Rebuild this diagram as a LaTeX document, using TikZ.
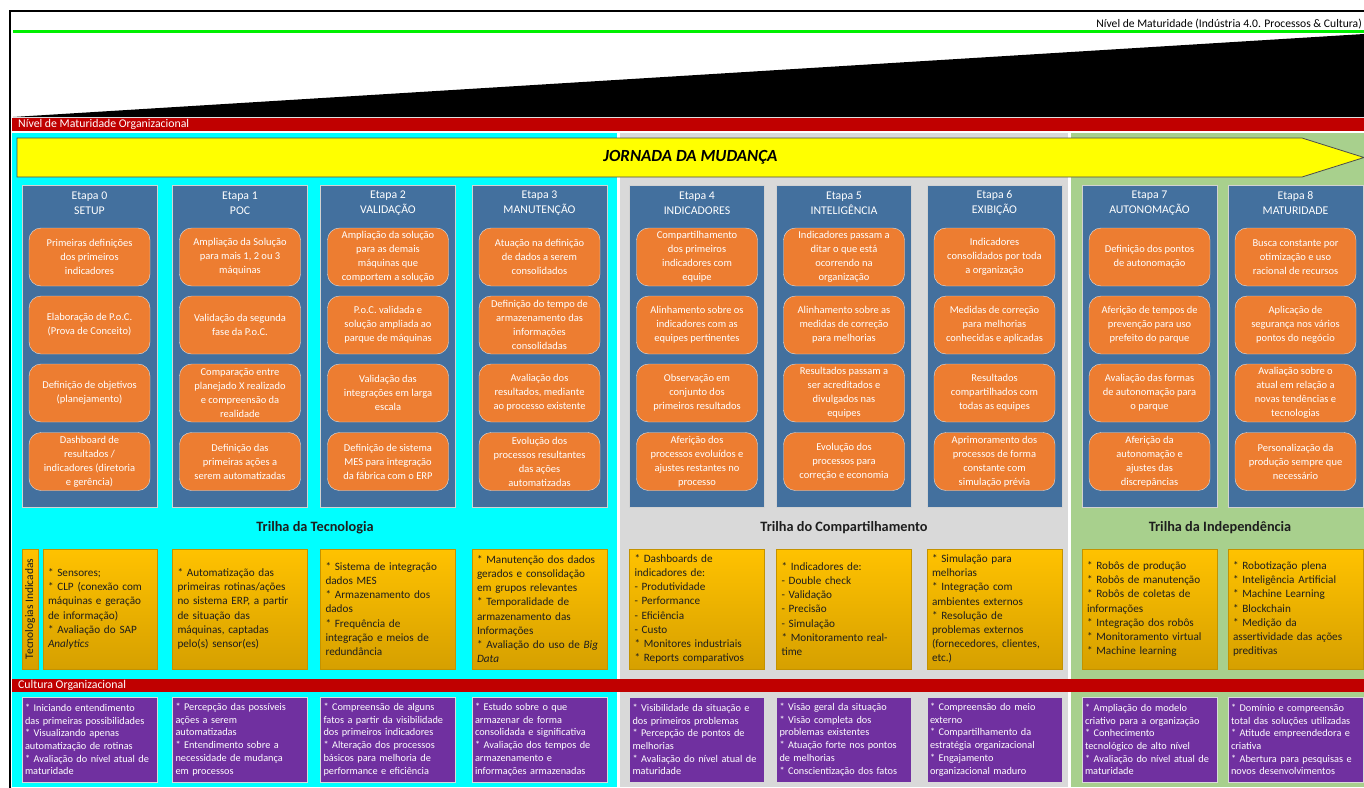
\documentclass[tikz,border=0pt]{standalone}
\usepackage{fontspec}
\setmainfont{Carlito}
\usepackage{tikz}
\definecolor{ciano}{RGB}{0,255,255}
\definecolor{cinza}{RGB}{217,217,217}
\definecolor{verdeclaro}{RGB}{168,208,141}
\definecolor{verdelinha}{RGB}{0,240,0}
\definecolor{vermelho}{RGB}{192,0,0}
\definecolor{amarelo}{RGB}{255,255,0}
\definecolor{azul}{RGB}{67,112,158}
\definecolor{laranja}{RGB}{237,125,49}
\definecolor{ouroA}{RGB}{255,194,0}
\definecolor{ouroB}{RGB}{214,160,0}
\definecolor{ouroC}{RGB}{196,146,0}
\definecolor{roxo}{RGB}{112,48,160}
\definecolor{texto}{RGB}{30,30,30}
\tikzset{
  etapa/.style={
    draw=white!65!gray, fill=azul,
    minimum width=135pt, minimum height=322pt, inner sep=0pt
  },
  titulo/.style={
    text=white, align=center, inner sep=0pt,
    font=\fontsize{11.8}{15}\selectfont
  },
  passo/.style={
    draw=white!75!gray, fill=laranja, rounded corners=12pt,
    minimum width=121pt, minimum height=58pt, inner sep=1pt,
    align=center, text=white, font=\fontsize{10.5}{14}\selectfont
  },
  tec/.style={
    top color=ouroA, bottom color=ouroB, draw=ouroC,
    minimum height=120pt, inner sep=5pt, align=left, text=texto,
    font=\fontsize{11.2}{14.2}\selectfont
  },
  cultura/.style={
    fill=roxo, draw=white!70!gray, text=white,
    minimum height=85pt, inner sep=3pt, text width=129pt, align=left,
    font=\fontsize{10.3}{12.7}\selectfont
  },
  faixa/.style={
    anchor=west, text=white, inner sep=0pt,
    font=\fontsize{11.8}{12}\selectfont
  },
  trilha/.style={
    text=texto, font=\fontsize{14.3}{16}\selectfont\bfseries
  },
  jornada/.style={
    fill=amarelo, draw=gray!60!black, line width=0.8pt
  }
}
\begin{document}
\begin{tikzpicture}[x=1pt,y=-1pt]
  \useasboundingbox (0,0) rectangle (1364,787);
  \fill[white] (0,0) rectangle (1364,787);

  % cabecalho
  \draw[line width=2pt] (10,788) -- (10,11) -- (1365,11);
  \draw[verdelinha, line width=3pt] (13,31.5) -- (1364,31.5);
  \node[anchor=south east, inner sep=1pt, font=\fontsize{11.6}{12}\selectfont] (nmi) at (1363,30) {Nível de Maturidade (Indústria 4.0. Processos \& Cultura)};
  \fill[black] (13,117) -- (1364,117) -- (1364,34) -- cycle;
  \fill[vermelho] (12,117.5) rectangle (1364,131);
  \node[faixa] (nmo) at (18,124.5) {Nível de Maturidade Organizacional};

  % trilhas
  \fill[ciano] (12,133) rectangle (617,787);
  \fill[cinza] (620,133) rectangle (1068,787);
  \fill[verdeclaro] (1071,133) rectangle (1364,787);

  \draw[jornada] (17,138) -- (1302,138) -- (1364,157.5) -- (1302,177) -- (17,177) -- cycle;
  \node[font=\fontsize{17}{19}\selectfont\bfseries\itshape] (jm) at (690.5,157.5) {JORNADA DA MUDANÇA};

  \foreach \cx/\n/\nome in {89.5/0/SETUP, 240/1/POC, 388/2/VALIDAÇÃO, 539.5/3/MANUTENÇÃO, 697/4/INDICADORES, 844/5/INTELIGÊNCIA, 994.5/6/EXIBIÇÃO, 1149.5/7/AUTONOMAÇÃO, 1295.5/8/MATURIDADE}{
    \node[etapa] (e\n) at (\cx,346) {};
    \node[titulo] (t\n) at (\cx,203.5) {Etapa \n\\\nome};
  }

  % etapas
  \node[passo] (p0a) at (89.5,257) {Primeiras definições\\dos primeiros\\indicadores};
  \node[passo] (p0b) at (89.5,325) {Elaboração de P.o.C.\\(Prova de Conceito)};
  \node[passo] (p0c) at (89.5,393) {Definição de objetivos\\(planejamento)};
  \node[passo] (p0d) at (89.5,461.5) {Dashboard de\\resultados /\\indicadores (diretoria\\e gerência)};

  \node[passo] (p1a) at (240,257) {Ampliação da Solução\\para mais 1, 2 ou 3\\máquinas};
  \node[passo] (p1b) at (240,325) {Validação da segunda\\fase da P.o.C.};
  \node[passo] (p1c) at (240,393) {Comparação entre\\planejado X realizado\\e compreensão da\\realidade};
  \node[passo] (p1d) at (240,461.5) {Definição das\\primeiras ações a\\serem automatizadas};

  \node[passo] (p2a) at (388,257) {Ampliação da solução\\para as demais\\máquinas que\\comportem a solução};
  \node[passo] (p2b) at (388,325) {P.o.C. validada e\\solução ampliada ao\\parque de máquinas};
  \node[passo] (p2c) at (388,393) {Validação das\\integrações em larga\\escala};
  \node[passo] (p2d) at (388,461.5) {Definição de sistema\\MES para integração\\da fábrica com o ERP};

  \node[passo] (p3a) at (539.5,257) {Atuação na definição\\de dados a serem\\consolidados};
  \node[passo] (p3b) at (539.5,325) {Definição do tempo de\\armazenamento das\\informações\\consolidadas};
  \node[passo] (p3c) at (539.5,393) {Avaliação dos\\resultados, mediante\\ao processo existente};
  \node[passo] (p3d) at (539.5,461.5) {Evolução dos\\processos resultantes\\das ações\\automatizadas};

  \node[passo] (p4a) at (697,257) {Compartilhamento\\dos primeiros\\indicadores com\\equipe};
  \node[passo] (p4b) at (697,325) {Alinhamento sobre os\\indicadores com as\\equipes pertinentes};
  \node[passo] (p4c) at (697,393) {Observação em\\conjunto dos\\primeiros resultados};
  \node[passo] (p4d) at (697,461.5) {Aferição dos\\processos evoluídos e\\ajustes restantes no\\processo};

  \node[passo] (p5a) at (844,257) {Indicadores passam a\\ditar o que está\\ocorrendo na\\organização};
  \node[passo] (p5b) at (844,325) {Alinhamento sobre as\\medidas de correção\\para melhorias};
  \node[passo] (p5c) at (844,393) {Resultados passam a\\ser acreditados e\\divulgados nas\\equipes};
  \node[passo] (p5d) at (844,461.5) {Evolução dos\\processos para\\correção e economia};

  \node[passo] (p6a) at (994.5,257) {Indicadores\\consolidados por toda\\a organização};
  \node[passo] (p6b) at (994.5,325) {Medidas de correção\\para melhorias\\conhecidas e aplicadas};
  \node[passo] (p6c) at (994.5,393) {Resultados\\compartilhados com\\todas as equipes};
  \node[passo] (p6d) at (994.5,461.5) {Aprimoramento dos\\processos de forma\\constante com\\simulação prévia};

  \node[passo] (p7a) at (1149.5,257) {Definição dos pontos\\de autonomação};
  \node[passo] (p7b) at (1149.5,325) {Aferição de tempos de\\prevenção para uso\\prefeito do parque};
  \node[passo] (p7c) at (1149.5,393) {Avaliação das formas\\de autonomação para\\o parque};
  \node[passo] (p7d) at (1149.5,461.5) {Aferição da\\autonomação e\\ajustes das\\discrepâncias};

  \node[passo] (p8a) at (1295.5,257) {Busca constante por\\otimização e uso\\racional de recursos};
  \node[passo] (p8b) at (1295.5,325) {Aplicação de\\segurança nos vários\\pontos do negócio};
  \node[passo] (p8c) at (1295.5,393) {Avaliação sobre o\\atual em relação a\\novas tendências e\\tecnologias};
  \node[passo] (p8d) at (1295.5,461.5) {Personalização da\\produção sempre que\\necessário};

  \node[trilha] (tt) at (315,528) {Trilha da Tecnologia};
  \node[trilha] (tc) at (844,528) {Trilha do Compartilhamento};
  \node[trilha] (tin) at (1220,528) {Trilha da Independência};

  % tecnologias indicadas
  \node[tec, rotate=90, minimum width=120pt, minimum height=16pt, inner sep=0pt, font=\fontsize{11.5}{12}\selectfont] (ti) at (30,609) {Tecnologias Indicadas};
  \node[tec, text width=104pt] (c0) at (100,609) {{*} Sensores;\\{*} CLP (conexão com\\máquinas e geração\\de informação)\\{*} Avaliação do SAP\\\textit{Analytics}};
  \node[tec, text width=125pt] (c1) at (240,609) {{*} Automatização das\\primeiras rotinas/ações\\no sistema ERP, a partir\\de situação das\\máquinas, captadas\\pelo(s) sensor(es)};
  \node[tec, text width=125pt] (c2) at (388,609) {{*} Sistema de integração\\dados MES\\{*} Armazenamento dos\\dados\\{*} Frequência de\\integração e meios de\\redundância};
  \node[tec, text width=125pt] (c3) at (539.5,609) {{*} Manutenção dos dados\\gerados e consolidação\\em grupos relevantes\\{*} Temporalidade de\\armazenamento das\\Informações\\{*} Avaliação do uso de \textit{Big}\\\textit{Data}};
  \node[tec, text width=125pt] (c4) at (697,609) {{*} Dashboards de\\indicadores de:\\- Produtividade\\- Performance\\- Eficiência\\- Custo\\{*} Monitores industriais\\{*} Reports comparativos};
  \node[tec, text width=125pt] (c5) at (844,609) {{*} Indicadores de:\\- Double check\\- Validação\\- Precisão\\- Simulação\\{*} Monitoramento real-\\time};
  \node[tec, text width=125pt] (c6) at (994.5,609) {{*} Simulação para\\melhorias\\{*} Integração com\\ambientes externos\\{*} Resolução de\\problemas externos\\(fornecedores, clientes,\\etc.)};
  \node[tec, text width=125pt] (c7) at (1149.5,609) {{*} Robôs de produção\\{*} Robôs de manutenção\\{*} Robôs de coletas de\\informações\\{*} Integração dos robôs\\{*} Monitoramento virtual\\{*} Machine learning};
  \node[tec, text width=125pt] (c8) at (1295.5,609) {{*} Robotização plena\\{*} Inteligência Artificial\\{*} Machine Learning\\{*} Blockchain\\{*} Medição da\\assertividade das ações\\preditivas};

  % cultura organizacional
  \fill[vermelho] (12,679) rectangle (1364,691.5);
  \node[faixa] (co) at (18,685.5) {Cultura Organizacional};

  \node[cultura] (o0) at (89.5,739.5) {{*} Iniciando entendimento\\das primeiras possibilidades\\{*} Visualizando apenas\\automatização de rotinas\\{*} Avaliação do nível atual de\\maturidade};
  \node[cultura] (o1) at (240,739.5) {{*} Percepção das possíveis\\ações a serem\\automatizadas\\{*} Entendimento sobre a\\necessidade de mudança\\em processos};
  \node[cultura] (o2) at (388,739.5) {{*} Compreensão de alguns\\fatos a partir da visibilidade\\dos primeiros indicadores\\{*} Alteração dos processos\\básicos para melhoria de\\performance e eficiência};
  \node[cultura] (o3) at (539.5,739.5) {{*} Estudo sobre o que\\armazenar de forma\\consolidada e significativa\\{*} Avaliação dos tempos de\\armazenamento e\\informações armazenadas};
  \node[cultura] (o4) at (697,739.5) {{*} Visibilidade da situação e\\dos primeiros problemas\\{*} Percepção de pontos de\\melhorias\\{*} Avaliação do nível atual de\\maturidade};
  \node[cultura] (o5) at (844,739.5) {{*} Visão geral da situação\\{*} Visão completa dos\\problemas existentes\\{*} Atuação forte nos pontos\\de melhorias\\{*} Conscientização dos fatos};
  \node[cultura] (o6) at (994.5,739.5) {{*} Compreensão do meio\\externo\\{*} Compartilhamento da\\estratégia organizacional\\{*} Engajamento\\organizacional maduro};
  \node[cultura] (o7) at (1149.5,739.5) {{*} Ampliação do modelo\\criativo para a organização\\{*} Conhecimento\\tecnológico de alto nível\\{*} Avaliação do nível atual de\\maturidade};
  \node[cultura] (o8) at (1295.5,739.5) {{*} Domínio e compreensão\\total das soluções utilizadas\\{*} Atitude empreendedora e\\criativa\\{*} Abertura para pesquisas e\\novos desenvolvimentos};
\end{tikzpicture}
\end{document}
